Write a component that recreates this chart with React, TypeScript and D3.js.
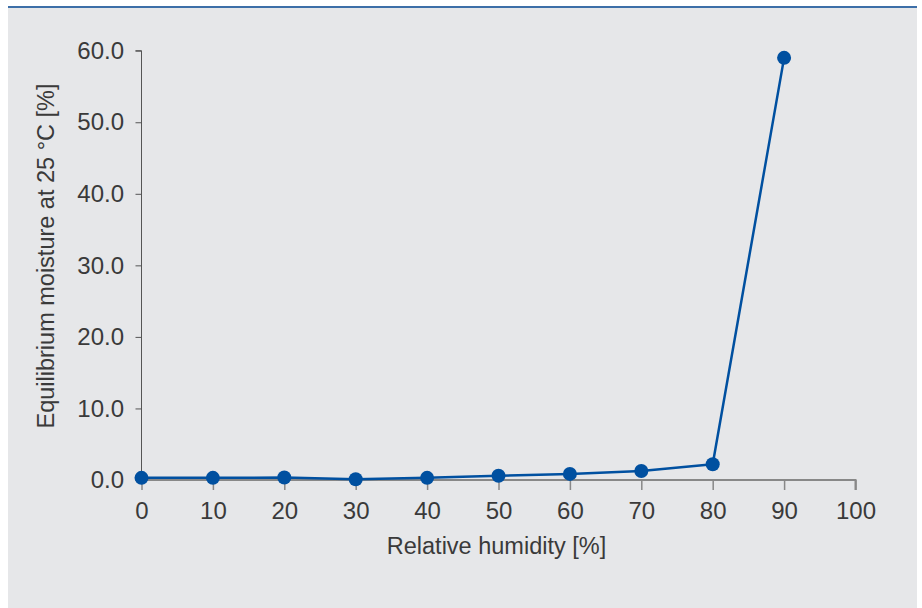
import React, { useEffect, useRef } from 'react';
import * as d3 from 'd3';

const humidity = [0, 10, 20, 30, 40, 50, 60, 70, 80, 90];
const moisture = [0.3, 0.3, 0.35, 0.1, 0.3, 0.6, 0.85, 1.25, 2.2, 59.0];
const xTicks = [0, 10, 20, 30, 40, 50, 60, 70, 80, 90, 100];
const yTicks = [0, 10, 20, 30, 40, 50, 60];

const width = 922;
const height = 608;
const font = '"Liberation Sans", Arial, Helvetica, sans-serif';

function MoistureChart() {
    const ref = useRef<SVGSVGElement>(null);

    useEffect(() => {
        const svg = d3.select(ref.current);
        svg.selectAll("*").remove();

        const margin = { top: 50.7, right: 66.5, bottom: 128, left: 141.5 };
        const chartWidth = width - margin.left - margin.right;
        const chartHeight = height - margin.top - margin.bottom;

        // panel background + blue rule on top
        svg.append("rect")
            .attr("x", 8).attr("y", 8)
            .attr("width", 909).attr("height", height - 8)
            .attr("fill", "#e6e7e9");
        svg.append("line")
            .attr("x1", 8).attr("x2", 917)
            .attr("y1", 7).attr("y2", 7)
            .attr("stroke", "#3d6fa8").attr("stroke-width", 2);

        const x = d3.scaleLinear().domain([0, 100]).range([0, chartWidth]);
        const y = d3.scaleLinear().domain([0, 60]).range([chartHeight, 0]);

        const g = svg.append("g")
            .attr("transform", `translate(${margin.left},${margin.top})`);

        const yAxis = g.append("g")
            .call(d3.axisLeft(y).tickValues(yTicks).tickFormat(d3.format(".1f"))
                .tickSize(6).tickPadding(11.5));
        yAxis.select(".domain").attr("d", `M-6,0H0V${chartHeight}`).attr("stroke", "#555");
        yAxis.selectAll(".tick line").attr("stroke", "#555");

        const xAxis = g.append("g")
            .attr("transform", `translate(0,${chartHeight})`)
            .call(d3.axisBottom(x).tickValues(xTicks).tickFormat(d3.format("d"))
                .tickSize(10).tickPadding(12));
        xAxis.select(".domain").attr("d", `M0,0H${chartWidth}V10`)
            .attr("stroke", "#888").attr("stroke-width", 2);
        xAxis.selectAll(".tick line").attr("stroke", "#888").attr("stroke-width", 1.5);

        svg.selectAll(".tick text")
            .attr("font-family", font)
            .attr("font-size", 24)
            .attr("fill", "#3a3a3a");

        const line = d3.line<number>()
            .x((d, i) => x(humidity[i]))
            .y(d => y(d));

        g.append("path")
            .datum(moisture)
            .attr("fill", "none")
            .attr("stroke", "#0050a0")
            .attr("stroke-width", 2.5)
            .attr("stroke-linejoin", "round")
            .attr("d", line);

        g.selectAll(".dot")
            .data(moisture)
            .enter().append("circle")
            .attr("class", "dot")
            .attr("cx", (d, i) => x(humidity[i]))
            .attr("cy", d => y(d))
            .attr("r", 7)
            .attr("fill", "#0050a0");

        svg.append("text")
            .attr("text-anchor", "middle")
            .attr("x", margin.left + chartWidth / 2 - 2)
            .attr("y", 554)
            .attr("font-family", font)
            .attr("font-size", 23.5)
            .attr("fill", "#3a3a3a")
            .text("Relative humidity [%]");

        svg.append("text")
            .attr("text-anchor", "middle")
            .attr("transform", `translate(53.5,256) rotate(-90)`)
            .attr("font-family", font)
            .attr("font-size", 23.5)
            .attr("fill", "#3a3a3a")
            .text("Equilibrium moisture at 25 °C [%]");
    }, []);

    return <svg ref={ref} width={width} height={height}
        style={{ position: 'absolute', left: 0, top: 0, display: 'block' }}></svg>;
}

export default function App() {
    return <MoistureChart />;
}
